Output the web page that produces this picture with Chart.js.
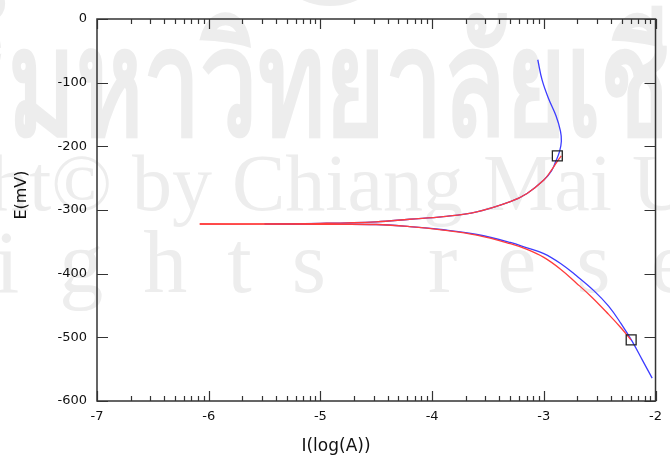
<!DOCTYPE html>
<html>
<head>
<meta charset="utf-8">
<script src="https://cdn.jsdelivr.net/npm/chart.js@4.4.1/dist/chart.umd.min.js"></script>
<style>
	html, body { margin: 0; padding: 0; background: #fff; }
	#wrap { width: 670px; height: 467px; }
</style>
</head>
<body>
<div id="wrap"><canvas id="tafel" width="670" height="467"></canvas></div>
<script>
// measured curve (blue), log I vs E
const blueLowerI = [-5.5, -5.0, -4.5, -4.2, -3.9, -3.6, -3.3, -3.15, -3.0, -2.85, -2.71, -2.55, -2.42, -2.31, -2.21, -2.12, -2.03];
const blueLowerE = [-322.2, -322.5, -322.8, -326, -331, -338.5, -351, -359.5, -368.5, -384, -403, -427, -451, -478, -506, -535, -564];
const blueUpperI = [-5.5, -5.0, -4.5, -4.2, -3.9, -3.6, -3.3, -3.15, -3.0, -2.93, -2.894, -2.859, -2.843, -2.851, -2.891, -2.955, -3.015, -3.054];
const blueUpperE = [-321.8, -321, -318.5, -314.5, -310.5, -303, -287, -274, -253, -238, -224, -208, -192, -176, -152, -126, -96, -64];

// fitted curve (red)
const redLowerI = [-6.08, -5.5, -5.0, -4.5, -4.2, -3.9, -3.6, -3.3, -3.15, -3.0, -2.85, -2.71, -2.57, -2.42, -2.31, -2.22];
const redLowerE = [-322, -322.2, -322.5, -322.8, -326, -331.5, -339.5, -353, -362, -374.5, -393, -414.5, -437, -464, -485, -504];
const redUpperI = [-6.08, -5.5, -5.0, -4.5, -4.2, -3.9, -3.6, -3.3, -3.15, -3.0, -2.93, -2.888, -2.844];
const redUpperE = [-322, -321.8, -321, -318.5, -314.5, -310.5, -303, -287, -274, -253, -237, -226, -215];

// tafel region markers
const markerI = [-2.879, -2.218];
const markerE = [-215, -504];

const xTicks = [-7, -6, -5, -4, -3, -2];
const yTicks = [0, -100, -200, -300, -400, -500, -600];

function toPoints(xs, ys) {
	return xs.map(function(x, i) { return { x: x, y: ys[i] }; });
}

const watermark = {
	id: 'watermark',
	beforeDraw: function(chart) {
		const ctx = chart.ctx;
		ctx.save();
		ctx.fillStyle = '#fff';
		ctx.fillRect(0, 0, chart.width, chart.height);
		ctx.fillStyle = '#ededed';
		ctx.textBaseline = 'alphabetic';
		ctx.textAlign = 'left';

		// edge of the emblem at the top
		ctx.beginPath();
		ctx.ellipse(330, -40, 56, 46, 0, 0, Math.PI * 2);
		ctx.fill();

		// thai line
		ctx.font = 'bold 150px "Noto Sans", sans-serif';
		const th = 'ลิขสิทธิ์มหาวิทยาลัยเชียงใหม่';
		const thPre = ctx.measureText('ลิขสิทธิ์').width;
		const thMid = ctx.measureText('มหาวิทยาลัยเชี').width;
		const sx = 662 / thMid;
		ctx.save();
		ctx.translate(8 - sx * thPre, 135);
		ctx.scale(sx, 1);
		ctx.fillText(th, 0, 0);
		ctx.restore();

		// copyright line
		ctx.font = '80px "Liberation Serif", serif';
		const pre = ctx.measureText('Copyright© by ').width;
		ctx.fillText('Copyright© by Chiang Mai University', 232 - pre, 210);

		// rights line
		ctx.font = '88px "Liberation Serif", serif';
		ctx.letterSpacing = '40px';
		const pre2 = ctx.measureText('All rights ').width;
		ctx.fillText('All rights reserved', 428 - pre2, 292);
		ctx.restore();
	}
};

const frame = {
	id: 'frame',
	afterDraw: function(chart) {
		const ctx = chart.ctx;
		const a = chart.chartArea;
		const xs = chart.scales.x;
		const ys = chart.scales.y;
		ctx.save();
		ctx.strokeStyle = '#333';
		ctx.lineWidth = 1.5;
		ctx.strokeRect(a.left, a.top, a.right - a.left, a.bottom - a.top);

		ctx.lineWidth = 1.2;
		ctx.beginPath();
		// log minor ticks on top and bottom
		for (let d = -7; d <= -2; d++) {
			for (let k = 1; k <= 9; k++) {
				const v = d + Math.log10(k);
				if (v > -2 || (k > 1 && d == -2)) continue;
				const px = Math.round(xs.getPixelForValue(v)) + 0.5;
				const len = k == 1 ? 10 : 5;
				ctx.moveTo(px, a.bottom);
				ctx.lineTo(px, a.bottom - len);
				ctx.moveTo(px, a.top);
				ctx.lineTo(px, a.top + len);
			}
		}
		yTicks.forEach(function(v) {
			const py = Math.round(ys.getPixelForValue(v)) + 0.5;
			ctx.moveTo(a.left, py);
			ctx.lineTo(a.left + 11, py);
			ctx.moveTo(a.right, py);
			ctx.lineTo(a.right - 11, py);
		});
		ctx.stroke();

		// axis titles
		ctx.fillStyle = '#111';
		ctx.font = '17px "DejaVu Sans", sans-serif';
		ctx.textAlign = 'center';
		ctx.textBaseline = 'middle';
		ctx.fillText('I(log(A))', 336, 447);
		ctx.translate(22, 195);
		ctx.rotate(-Math.PI / 2);
		ctx.font = '16px "DejaVu Sans", sans-serif';
		ctx.fillText('E(mV)', 0, 0);
		ctx.restore();
	}
};

const lineStyle = { pointRadius: 0, borderWidth: 1.3, tension: 0.4, fill: false };

const ctx = document.getElementById('tafel').getContext('2d');
const chart = new Chart(ctx, {
	type: 'line',
	data: {
		datasets: [
			{
				label: 'tafel',
				data: toPoints(markerI, markerE),
				pointStyle: 'rect',
				pointRadius: 7,
				borderColor: '#222',
				backgroundColor: 'rgba(0,0,0,0)',
				borderWidth: 1.3,
				showLine: false
			},
			Object.assign({ label: 'fit lower', data: toPoints(redLowerI, redLowerE), borderColor: '#ff3c3c' }, lineStyle),
			Object.assign({ label: 'fit upper', data: toPoints(redUpperI, redUpperE), borderColor: '#ff3c3c' }, lineStyle),
			Object.assign({ label: 'meas lower', data: toPoints(blueLowerI, blueLowerE), borderColor: '#3c3cff' }, lineStyle),
			Object.assign({ label: 'meas upper', data: toPoints(blueUpperI, blueUpperE), borderColor: '#3c3cff' }, lineStyle)
		]
	},
	options: {
		responsive: false,
		animation: false,
		devicePixelRatio: 1,
		layout: { padding: { top: 19, right: 10, left: 0, bottom: 0 } },
		plugins: { legend: { display: false }, tooltip: { enabled: false } },
		scales: {
			x: {
				type: 'linear',
				min: -7,
				max: -2,
				afterFit: function(s) { s.height = 66; },
				afterBuildTicks: function(s) { s.ticks = xTicks.map(function(v) { return { value: v }; }); },
				grid: { display: false, drawTicks: false },
				border: { display: false },
				ticks: {
					padding: 8,
					color: '#111',
					font: { family: '"DejaVu Sans", sans-serif', size: 13 },
					callback: function(v) { return String(v); }
				}
			},
			y: {
				type: 'linear',
				min: -600,
				max: 0,
				afterFit: function(s) { s.width = 97; },
				afterBuildTicks: function(s) { s.ticks = yTicks.map(function(v) { return { value: v }; }); },
				grid: { display: false, drawTicks: false },
				border: { display: false },
				ticks: {
					padding: 10,
					color: '#111',
					font: { family: '"DejaVu Sans", sans-serif', size: 13 },
					callback: function(v) { return String(v); }
				}
			}
		}
	},
	plugins: [watermark, frame]
});
</script>
</body>
</html>
